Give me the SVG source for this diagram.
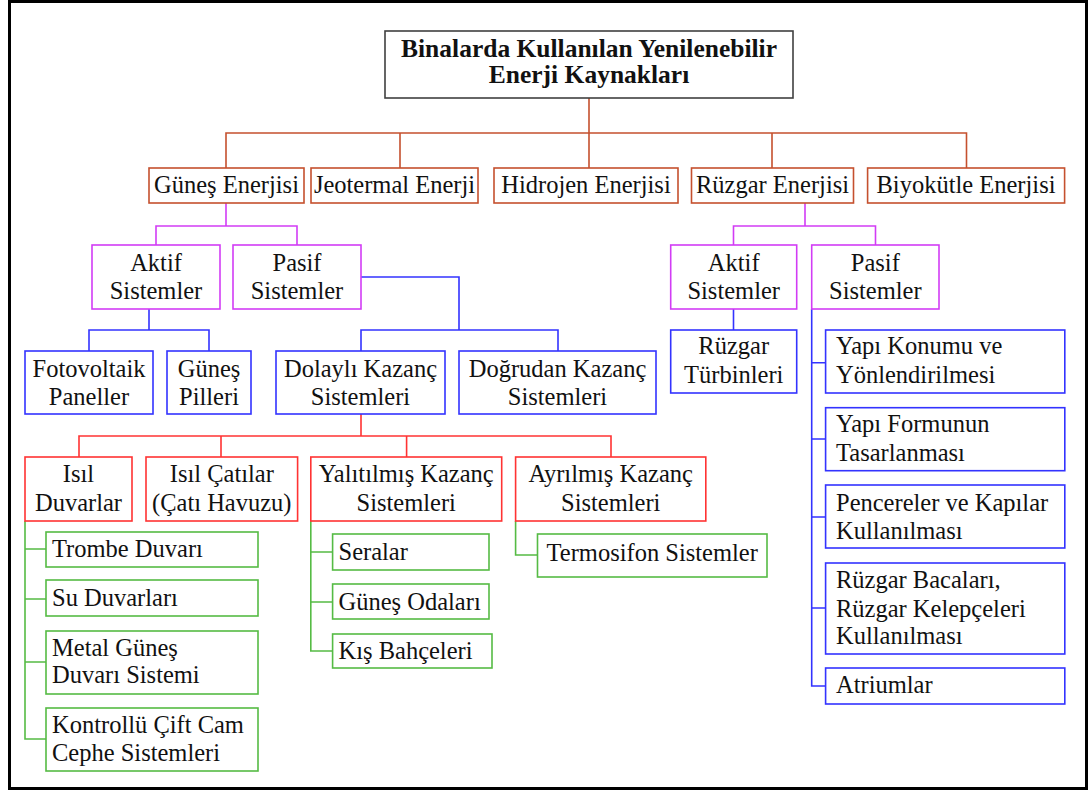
<svg xmlns="http://www.w3.org/2000/svg" width="1088" height="791" viewBox="0 0 1088 791">
<style>
text{font-family:"Liberation Serif","Times New Roman",serif;font-size:24.5px;fill:#111}
.c{text-anchor:middle}
.t{font-weight:bold;font-size:25.5px}
rect{fill:#fff}
.o{stroke:#C5502E;stroke-width:1.6}
.m{stroke:#D23CF5;stroke-width:1.6}
.b{stroke:#3333FF;stroke-width:1.6}
.r{stroke:#FF3333;stroke-width:1.6}
.g{stroke:#55BB44;stroke-width:1.6}
.k{stroke:#404040;stroke-width:1.6}
#connectors path{fill:none}
</style>
<rect x="9.5" y="1.5" width="1077" height="787" fill="#fff" stroke="#000" stroke-width="3"/>
<g id="connectors">
<path class="o" d="M589 98V168M226 168V133H966.5V168M400 133V168M772 133V168"/>
<path class="m" d="M226 203V226M156 245V226H297V245M805 203V226M733.5 245V226H875.5V245"/>
<path class="b" d="M149 309V330M89 351V330H209V351M361 277H459V330M361 351V330H558V351M733.5 309V330M811.7 309V686H825.6M811.7 362.7H825.6M811.7 439H825.6M811.7 517H825.6M811.7 608H825.6"/>
<path class="r" d="M361 414V436M79 457V436H611V457M221 436V457M406.6 436V457"/>
<path class="g" d="M25 521V739H46M25 549H46M25 599H46M25 662H46M310.8 521V651H332.6M310.8 552H332.6M310.8 602H332.6M515.6 521V555H537.5"/>
</g>
<g id="title"><rect class="k" x="385" y="31" width="408" height="67"/><text class="c t" x="589" y="56.5">Binalarda Kullanılan Yenilenebilir</text><text class="c t" x="589" y="83.3">Enerji Kaynakları</text></g>
<g id="gunes-enerjisi"><rect class="o" x="149" y="168" width="155" height="35"/><text class="c" x="226.5" y="193">Güneş Enerjisi</text></g>
<g id="jeotermal"><rect class="o" x="311" y="168" width="167" height="35"/><text class="c" x="394.5" y="193">Jeotermal Enerji</text></g>
<g id="hidrojen"><rect class="o" x="494" y="168" width="184" height="35"/><text class="c" x="586" y="193">Hidrojen Enerjisi</text></g>
<g id="ruzgar-enerjisi"><rect class="o" x="691.5" y="168" width="162" height="35"/><text class="c" x="772.5" y="193">Rüzgar Enerjisi</text></g>
<g id="biyokutle"><rect class="o" x="867.6" y="168" width="197" height="35"/><text class="c" x="966" y="193">Biyokütle Enerjisi</text></g>
<g id="g-aktif"><rect class="m" x="92" y="245" width="128" height="64"/><text class="c" x="156" y="270.7">Aktif</text><text class="c" x="156" y="299">Sistemler</text></g>
<g id="g-pasif"><rect class="m" x="233" y="245" width="128" height="64"/><text class="c" x="297" y="270.7">Pasif</text><text class="c" x="297" y="299">Sistemler</text></g>
<g id="r-aktif"><rect class="m" x="670.7" y="245" width="126" height="64"/><text class="c" x="733.7" y="270.7">Aktif</text><text class="c" x="733.7" y="299">Sistemler</text></g>
<g id="r-pasif"><rect class="m" x="811.7" y="245" width="127.3" height="64"/><text class="c" x="875.3" y="270.7">Pasif</text><text class="c" x="875.3" y="299">Sistemler</text></g>
<g id="fotovoltaik"><rect class="b" x="25" y="351" width="128" height="63"/><text class="c" x="89" y="376.7">Fotovoltaik</text><text class="c" x="89" y="405">Paneller</text></g>
<g id="gunes-pilleri"><rect class="b" x="167" y="351" width="84" height="63"/><text class="c" x="209" y="376.7">Güneş</text><text class="c" x="209" y="405">Pilleri</text></g>
<g id="dolayli"><rect class="b" x="276" y="351" width="169" height="63"/><text class="c" x="360.5" y="376.7">Dolaylı Kazanç</text><text class="c" x="360.5" y="405">Sistemleri</text></g>
<g id="dogrudan"><rect class="b" x="459" y="351" width="197" height="63"/><text class="c" x="557.5" y="376.7">Doğrudan Kazanç</text><text class="c" x="557.5" y="405">Sistemleri</text></g>
<g id="turbinleri"><rect class="b" x="670.7" y="330" width="126" height="63"/><text class="c" x="733.7" y="354">Rüzgar</text><text class="c" x="733.7" y="383">Türbinleri</text></g>
<g id="yapi-konumu"><rect class="b" x="825.6" y="330" width="239.2" height="63"/><text x="836" y="354">Yapı Konumu ve</text><text x="836" y="383">Yönlendirilmesi</text></g>
<g id="yapi-formu"><rect class="b" x="825.6" y="407.7" width="239.2" height="63"/><text x="836" y="432">Yapı Formunun</text><text x="836" y="460.7">Tasarlanması</text></g>
<g id="pencereler"><rect class="b" x="825.6" y="485" width="239.2" height="63"/><text x="836" y="510.7">Pencereler ve Kapılar</text><text x="836" y="539">Kullanılması</text></g>
<g id="bacalar"><rect class="b" x="825.6" y="563" width="239.2" height="91"/><text x="836" y="588.3">Rüzgar Bacaları,</text><text x="836" y="616.7">Rüzgar Kelepçeleri</text><text x="836" y="643.5">Kullanılması</text></g>
<g id="atriumlar"><rect class="b" x="825.6" y="668" width="239.2" height="36"/><text x="836" y="693">Atriumlar</text></g>
<g id="isil-duvarlar"><rect class="r" x="25" y="457" width="107" height="64"/><text class="c" x="78.5" y="481.7">Isıl</text><text class="c" x="78.5" y="510.7">Duvarlar</text></g>
<g id="isil-catilar"><rect class="r" x="146" y="457" width="151.6" height="64"/><text class="c" x="221.8" y="481.7">Isıl Çatılar</text><text class="c" x="221.8" y="510.7">(Çatı Havuzu)</text></g>
<g id="yalitilmis"><rect class="r" x="310.8" y="457" width="190.9" height="64"/><text class="c" x="406.2" y="481.7">Yalıtılmış Kazanç</text><text class="c" x="406.2" y="510.7">Sistemleri</text></g>
<g id="ayrilmis"><rect class="r" x="515.6" y="457" width="190.2" height="64"/><text class="c" x="610.7" y="481.7">Ayrılmış Kazanç</text><text class="c" x="610.7" y="510.7">Sistemleri</text></g>
<g id="trombe"><rect class="g" x="46" y="532" width="212" height="35"/><text x="52" y="557.3">Trombe Duvarı</text></g>
<g id="su-duvarlari"><rect class="g" x="46" y="580" width="212" height="36"/><text x="52" y="606">Su Duvarları</text></g>
<g id="metal-gunes"><rect class="g" x="46" y="631" width="212" height="63"/><text x="52" y="656">Metal Güneş</text><text x="52" y="683.3">Duvarı Sistemi</text></g>
<g id="kontrollu"><rect class="g" x="46" y="708" width="212" height="63"/><text x="52" y="733">Kontrollü Çift Cam</text><text x="52" y="760.7">Cephe Sistemleri</text></g>
<g id="seralar"><rect class="g" x="332.6" y="534" width="156.4" height="36"/><text x="338.5" y="560">Seralar</text></g>
<g id="gunes-odalari"><rect class="g" x="332.6" y="584" width="156.4" height="35"/><text x="338.5" y="609.5">Güneş Odaları</text></g>
<g id="kis-bahceleri"><rect class="g" x="332.6" y="634" width="159.4" height="34"/><text x="338.5" y="659">Kış Bahçeleri</text></g>
<g id="termosifon"><rect class="g" x="537.5" y="534" width="229.5" height="43"/><text class="c" x="652.2" y="560.7">Termosifon Sistemler</text></g>
</svg>
